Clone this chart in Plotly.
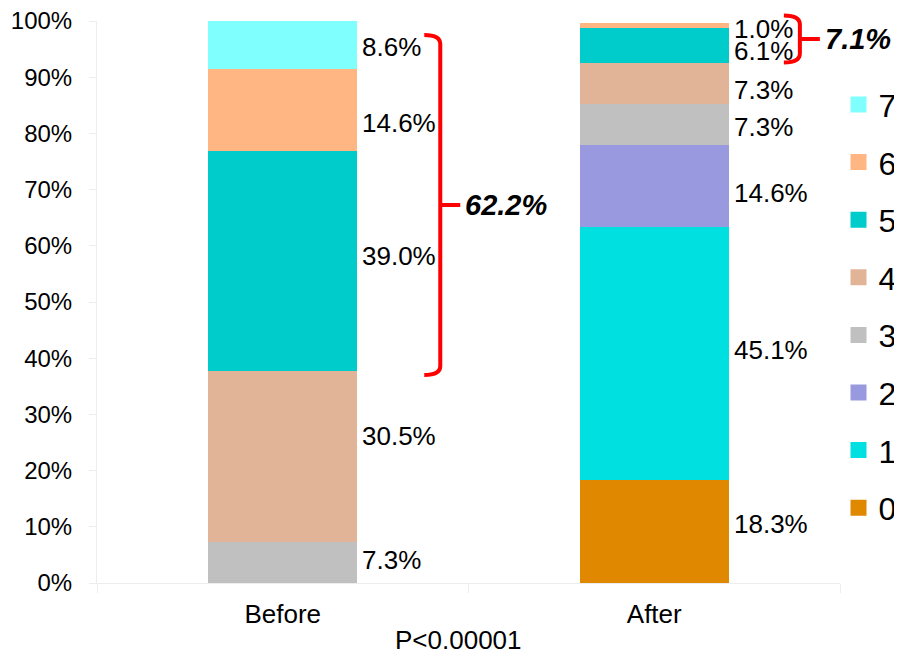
import plotly.graph_objects as go

categories = ["Before", "After"]
levels = ["0", "1", "2", "3", "4", "5", "6", "7"]
before_vals = [0, 0, 0, 7.3, 30.5, 39.0, 14.6, 8.6]
after_vals = [18.3, 45.1, 14.6, 7.3, 7.3, 6.1, 1.0, 0]
level_colors = ["#E08800", "#00E0E0", "#9999E0", "#C0C0C0",
                "#E2B497", "#00CCCC", "#FFB683", "#80FFFF"]
yticks = [0, 10, 20, 30, 40, 50, 60, 70, 80, 90, 100]
p_text = "P<0.00001"

# label nudges in pixels (positive = up), per level
before_label_shift = [0, 0, 0, 2, 20, 5, -13, -2]
after_label_shift = [8, 3, -7, -3, -7, -6, -4, 0]

# brackets: (category index, levels covered)
brackets = [(0, [5, 6, 7]), (1, [5, 6])]
bracket_pad_lo = [-0.8, 0.0]
bracket_pad_hi = [-2.5, 1.3]
bracket_dx = [0.424, 0.392]

series = [before_vals, after_vals]
shifts = [before_label_shift, after_label_shift]
BAR_W = 0.4

fig = go.Figure()
for k, lvl in enumerate(levels):
    fig.add_trace(go.Bar(
        x=categories, y=[before_vals[k], after_vals[k]],
        name=lvl, marker=dict(color=level_colors[k], line=dict(width=0)),
        width=BAR_W, showlegend=False, hoverinfo="skip"))
# legend proxies (top entry = 7)
for k in reversed(range(len(levels))):
    fig.add_trace(go.Scatter(
        x=[None], y=[None], mode="markers", name=levels[k], legendgroup=levels[k],
        marker=dict(symbol="square", size=16, color=level_colors[k])))

def xp(v):
    return (v + 0.5) / 2.0

annotations = []
for i, vals in enumerate(series):
    cum = 0
    for k, v in enumerate(vals):
        if v > 0:
            mid = cum + v / 2
            annotations.append(dict(
                x=xp(i + BAR_W / 2), y=mid / 100, xref="paper", yref="paper",
                text=f"{v:.1f}%", showarrow=False, xanchor="left", yanchor="middle",
                xshift=3, yshift=shifts[i][k], font=dict(size=26, color="#000000")))
        cum += v

shapes = []
for b, (i, lv) in enumerate(brackets):
    vals = series[i]
    lo = sum(vals[:lv[0]]) + bracket_pad_lo[b]
    hi = sum(vals[:lv[-1] + 1]) + bracket_pad_hi[b]
    total = sum(vals[l] for l in lv)
    X = xp(i + bracket_dx[b])
    Xe = X - 16 / 743
    Xt = X + 20 / 743
    r = 9 / 562
    yl, yh = lo / 100, hi / 100
    ym = (yl + yh) / 2
    path = (f"M{Xe},{yh} Q{X},{yh} {X},{yh - r} L{X},{yl + r} "
            f"Q{X},{yl} {Xe},{yl} M{X},{ym} L{Xt},{ym}")
    shapes.append(dict(type="path", xref="paper", yref="paper", path=path,
                       line=dict(color="#FF0000", width=4)))
    annotations.append(dict(
        x=Xt, y=ym, xref="paper", yref="paper", text=f"<b><i>{total:.1f}%</i></b>",
        showarrow=False, xanchor="left", yanchor="middle", xshift=3,
        font=dict(size=29, color="#000000")))

annotations.append(dict(
    x=0.487, y=-0.101, xref="paper", yref="paper", text=p_text, showarrow=False,
    xanchor="center", yanchor="middle", font=dict(size=26, color="#000000")))

axis_col = "#EDEDED"
fig.update_layout(
    width=902, height=656,
    margin=dict(l=89, r=70, t=13, b=81, autoexpand=False),
    paper_bgcolor="white", plot_bgcolor="white",
    barmode="stack",
    font=dict(family="Liberation Sans, Arial, sans-serif", color="#000000"),
    xaxis=dict(type="category", range=[-0.5, 1.5], showline=True, linecolor=axis_col,
               linewidth=1, ticks="outside", tickson="boundaries", ticklen=9,
               tickcolor=axis_col, showgrid=False, tickfont=dict(size=26),
               ticklabelstandoff=8, automargin=False),
    yaxis=dict(range=[0, 100], tickvals=yticks, ticktext=[f"{t}%" for t in yticks],
               showline=True, linecolor=axis_col, ticks="outside", ticklen=7,
               tickcolor=axis_col, showgrid=False, zeroline=False,
               tickfont=dict(size=24), ticklabelstandoff=12, automargin=False,
               ticklabeloverflow="allow"),
    legend=dict(x=0.998, xanchor="left", y=0.90, yanchor="top",
                traceorder="grouped", tracegroupgap=13,
                font=dict(size=32), bgcolor="rgba(0,0,0,0)", itemwidth=30),
    shapes=shapes, annotations=annotations,
)

fig.write_html("out.html")
